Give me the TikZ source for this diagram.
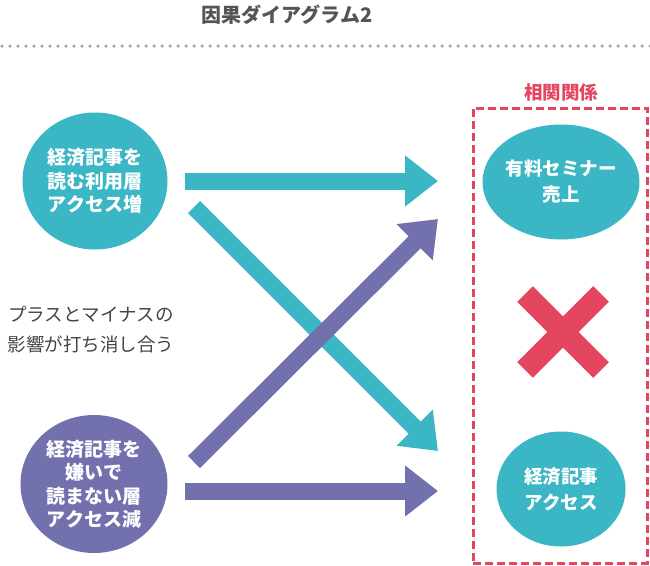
\documentclass[tikz,border=0pt]{standalone}
\usepackage{fontspec}
\setmainfont{Noto Sans CJK JP}
\usetikzlibrary{shapes.geometric,arrows.meta}
\definecolor{tealc}{HTML}{3AB6C4}
\definecolor{purpc}{HTML}{7271AE}
\definecolor{redc}{HTML}{E4465F}
\definecolor{titlegray}{HTML}{555555}
\definecolor{textgray}{HTML}{444444}
\definecolor{dotgray}{HTML}{A5A5A5}
\begin{document}
\begin{tikzpicture}[x=1pt,y=-1pt,
  bubble/.style={ellipse, inner sep=0pt, text=white, align=center,
    font=\bfseries\fontsize{19}{23.5}\selectfont},
  smallbubble/.style={bubble, fill=tealc, minimum width=129pt, minimum height=115pt,
    font=\bfseries\fontsize{18.5}{26}\selectfont},
  fatarrow/.style={line width=17pt, -{Triangle[width=49pt,length=33pt]}},
  crossbar/.style={redc, line width=22pt}
]
\useasboundingbox (0,0) rectangle (650,565);

% title and dotted rule
\node[font=\bfseries\fontsize{20}{24}\selectfont, text=titlegray] (title) at (287,15) {因果ダイアグラム2};
\coordinate (ruleL) at (2,46);
\coordinate (ruleR) at (650,46);
\draw[dotgray, line width=3.5pt, line cap=round, dash pattern=on 0pt off 8pt] (ruleL) -- (ruleR);

% correlation box
\node[draw=redc, line width=3pt, dash pattern=on 8pt off 4pt, minimum width=174pt,
  minimum height=455pt, inner sep=0pt] (box) at (560,335.5) {};
\node[text=redc, font=\bfseries\fontsize{18.5}{22}\selectfont] (boxlabel) at (561,92) {相関関係};

% bubbles
\node[bubble, fill=tealc, minimum width=145pt, minimum height=137pt] (c1) at (95,181)
  {経済記事を\\読む利用層\\アクセス増};
\node[bubble, fill=purpc, minimum width=147pt, minimum height=138pt] (c2) at (94,484)
  {経済記事を\\嫌いで\\読まない層\\アクセス減};
\node[smallbubble] (c3) at (561,182) {有料セミナー\\売上};
\node[smallbubble] (c4) at (561,489) {経済記事\\アクセス};

% note
\node[text=textgray, font=\fontsize{18.5}{30}\selectfont, align=center] (note) at (91,330)
  {プラスとマイナスの\\影響が打ち消し合う};

% arrows
\coordinate (a1s) at (185,181); \coordinate (a1e) at (438,181);
\coordinate (a2s) at (194,207); \coordinate (a2e) at (438,451);
\coordinate (a3s) at (194,462); \coordinate (a3e) at (438,219);
\coordinate (a4s) at (185,491); \coordinate (a4e) at (438,491);
\draw[fatarrow, tealc] (a1s) -- (a1e);
\draw[fatarrow, tealc] (a2s) -- (a2e);
\draw[fatarrow, purpc] (a3s) -- (a3e);
\draw[fatarrow, purpc] (a4s) -- (a4e);

% red cross
\coordinate (xa) at (525,294); \coordinate (xb) at (601,370);
\coordinate (xc) at (525,370); \coordinate (xd) at (601,294);
\draw[crossbar] (xa) -- (xb);
\draw[crossbar] (xc) -- (xd);
\end{tikzpicture}
\end{document}
